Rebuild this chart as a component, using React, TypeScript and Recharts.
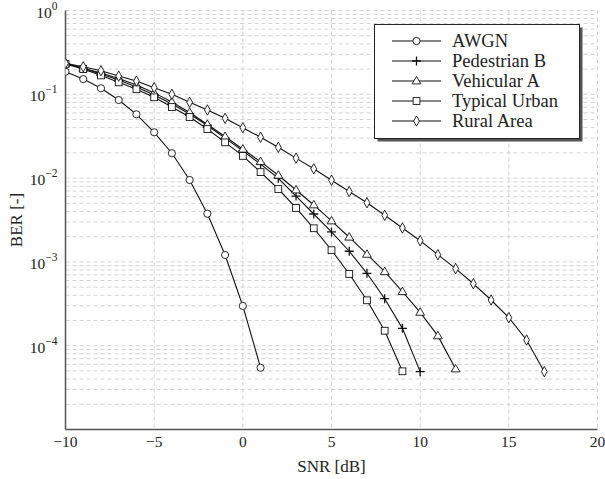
import React from 'react';
import { LineChart, Line, XAxis, YAxis, CartesianGrid, Legend, Label } from 'recharts';

const snr = [-10, -9, -8, -7, -6, -5, -4, -3, -2, -1, 0, 1, 2, 3, 4, 5, 6, 7, 8, 9, 10, 11, 12, 13, 14, 15, 16, 17];

const awgn = [0.186, 0.152, 0.118, 0.0855, 0.0577, 0.0352, 0.0198, 0.0095, 0.00376, 0.00121, 2.98e-4, 5.46e-5];
const pedestrianB = [0.233, 0.203, 0.175, 0.148, 0.122, 0.0984, 0.0768, 0.0583, 0.0425, 0.03,
  0.0211, 0.0147, 0.00995, 0.00611, 0.00373, 0.00228, 0.00134, 7.31e-4, 3.64e-4, 1.61e-4, 4.9e-5];
const vehicularA = [0.233, 0.204, 0.18, 0.154, 0.129, 0.104, 0.0808, 0.0607, 0.0436, 0.0313,
  0.0221, 0.0157, 0.0108, 0.00721, 0.00478, 0.00308, 0.00197, 0.00123, 7.64e-4, 4.41e-4, 2.5e-4, 1.31e-4, 5.27e-5];
const typicalUrban = [0.23, 0.2, 0.168, 0.139, 0.115, 0.0921, 0.0705, 0.0536, 0.0385, 0.0267,
  0.0184, 0.0118, 0.00741, 0.0044, 0.00252, 0.00138, 7.18e-4, 3.48e-4, 1.51e-4, 4.95e-5];
const ruralArea = [0.234, 0.213, 0.191, 0.165, 0.144, 0.12, 0.1, 0.0803, 0.065, 0.0517,
  0.0399, 0.0307, 0.0233, 0.0173, 0.0129, 0.00944, 0.00692, 0.00508, 0.0036, 0.00254,
  0.00179, 0.00122, 8.32e-4, 5.49e-4, 3.51e-4, 2.16e-4, 1.17e-4, 4.9e-5];

const xTicks = [-10, -5, 0, 5, 10, 15, 20];
const decades = [1e-5, 1e-4, 1e-3, 1e-2, 1e-1, 1];
const labelledDecades = [1e-4, 1e-3, 1e-2, 1e-1, 1];
const minorSteps = [1, 2, 3, 4, 5, 6, 7, 8, 9];

// log grid: every 1..9 x 10^k, labels only on the decades
const yTicks = decades.flatMap((d, i) => (i === decades.length - 1 ? [d] : minorSteps.map((m) => m * d)));

const FONT = "'Liberation Serif', 'DejaVu Serif', serif";
const INK = '#111';

const toRows = (ber: number[]) => ber.map((v, i) => ({ snr: snr[i], ber: v }));

type Shape = 'circle' | 'plus' | 'triangle' | 'square' | 'diamond';

const series: { name: string; shape: Shape; rows: { snr: number; ber: number }[] }[] = [
  { name: 'AWGN', shape: 'circle', rows: toRows(awgn) },
  { name: 'Pedestrian B', shape: 'plus', rows: toRows(pedestrianB) },
  { name: 'Vehicular A', shape: 'triangle', rows: toRows(vehicularA) },
  { name: 'Typical Urban', shape: 'square', rows: toRows(typicalUrban) },
  { name: 'Rural Area', shape: 'diamond', rows: toRows(ruralArea) },
];

const Marker = ({ shape, cx, cy }: { shape: Shape; cx: number; cy: number }) => {
  const common = { fill: '#fff', stroke: INK, strokeWidth: 0.9 };
  switch (shape) {
    case 'circle':
      return <circle cx={cx} cy={cy} r={3.6} {...common} />;
    case 'plus':
      return <path d={`M${cx - 4.5},${cy}H${cx + 4.5}M${cx},${cy - 4.5}V${cy + 4.5}`} stroke={INK} strokeWidth={1.3} fill="none" />;
    case 'triangle':
      return <polygon points={`${cx},${cy - 4.6} ${cx + 4.4},${cy + 2.9} ${cx - 4.4},${cy + 2.9}`} {...common} />;
    case 'square':
      return <rect x={cx - 3.4} y={cy - 3.4} width={6.8} height={6.8} {...common} />;
    default:
      return <polygon points={`${cx},${cy - 5.2} ${cx + 2.9},${cy} ${cx},${cy + 5.2} ${cx - 2.9},${cy}`} {...common} />;
  }
};

const txt = { fontFamily: FONT, fill: '#222' };

const YTick = ({ x, y, payload }: any) => {
  const v = payload.value as number;
  if (!labelledDecades.some((d) => Math.abs(v / d - 1) < 1e-6)) return <g />;
  const e = Math.round(Math.log10(v));
  const sup = e === 0 ? '0' : `\u2212${Math.abs(e)}`;
  return (
    <text x={x - 8} y={y + 7} textAnchor="end" style={{ ...txt, fontSize: 15.5 }}>
      <tspan>10</tspan>
      <tspan dy={-8} style={{ fontSize: 11.5 }}>{sup}</tspan>
    </text>
  );
};

const XTick = ({ x, y, payload }: any) => {
  const v = payload.value as number;
  const label = v < 0 ? `\u2212${Math.abs(v)}` : `${v}`;
  return (
    <text x={x} y={y + 17} textAnchor="middle" style={{ ...txt, fontSize: 15.5 }}>
      {label}
    </text>
  );
};

const LegendBox = () => (
  <svg width={212} height={122}>
    <rect x={3.5} y={3.5} width={205} height={114} fill="#555" />
    <rect x={0.5} y={0.5} width={205} height={114} fill="#fff" stroke="#222" strokeWidth={1} />
    {series.map((s, i) => {
      const cy = 17 + i * 20;
      return (
        <g key={s.name}>
          <line x1={18} x2={67} y1={cy} y2={cy} stroke={INK} strokeWidth={1.1} />
          <Marker shape={s.shape} cx={42.5} cy={cy} />
          <text x={78} y={cy + 5.5} style={{ ...txt, fontSize: 18.5 }}>{s.name}</text>
        </g>
      );
    })}
  </svg>
);

export default function App() {
  return (
    <div style={{ position: 'absolute', left: 0, top: 0, width: 605, height: 479, fontFamily: FONT }}>
      <LineChart width={605} height={479} margin={{ top: 10.5, right: 7.5, bottom: 19.5, left: 0 }}>
        <CartesianGrid stroke="#d2d2d2" strokeDasharray="4 3" />
        <XAxis
          type="number"
          dataKey="snr"
          domain={[-10, 20]}
          ticks={xTicks}
          interval={0}
          allowDataOverflow
          height={30}
          tickLine={false}
          tickSize={0}
          tickMargin={0}
          tick={<XTick />}
          axisLine={{ stroke: '#555', strokeWidth: 1.5 }}
        >
          <Label
            content={({ viewBox }: any) => (
              <text x={viewBox.x + viewBox.width / 2} y={viewBox.y + 42} textAnchor="middle" style={{ ...txt, fontSize: 17 }}>
                SNR [dB]
              </text>
            )}
          />
        </XAxis>
        <YAxis
          type="number"
          scale="log"
          domain={[1e-5, 1]}
          ticks={yTicks}
          interval={0}
          allowDataOverflow
          width={65.5}
          tickLine={false}
          tickSize={0}
          tickMargin={0}
          tick={<YTick />}
          axisLine={{ stroke: '#555', strokeWidth: 1.5 }}
        >
          <Label
            content={({ viewBox }: any) => {
              const cx = 16;
              const cy = viewBox.y + viewBox.height / 2;
              return (
                <text x={cx} y={cy} transform={`rotate(-90 ${cx} ${cy})`} textAnchor="middle" dominantBaseline="central" style={{ ...txt, fontSize: 17 }}>
                  BER [-]
                </text>
              );
            }}
          />
        </YAxis>
        {series.map((s) => (
          <Line
            key={s.name}
            data={s.rows}
            dataKey="ber"
            name={s.name}
            stroke={INK}
            strokeWidth={1.1}
            isAnimationActive={false}
            dot={(p: any) =>
              p.cy == null ? <g key={`${s.name}-${p.index}`} /> : <Marker key={`${s.name}-${p.index}`} shape={s.shape} cx={p.cx} cy={p.cy} />
            }
            activeDot={false}
          />
        ))}
        <Legend
          layout="horizontal"
          verticalAlign="middle"
          align="center"
          content={() => <LegendBox />}
          wrapperStyle={{ position: 'absolute', left: 374, top: 24, width: 212, height: 122 }}
        />
      </LineChart>
    </div>
  );
}
